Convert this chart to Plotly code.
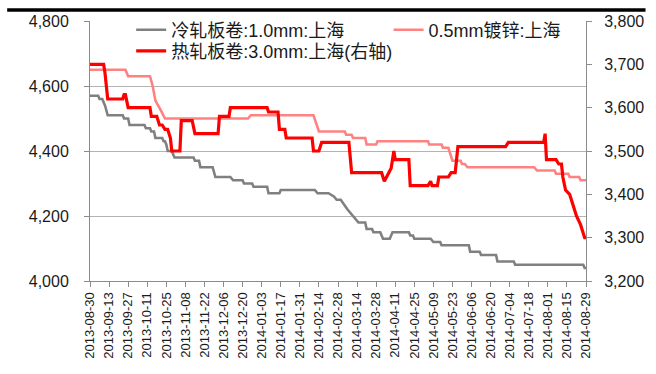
import plotly.graph_objects as go

# 冷轧板卷:1.0mm:上海 (left axis, 元/吨)
cold_dates = [
    "2013-08-30", "2013-09-05", "2013-09-06", "2013-09-08", "2013-09-10", "2013-09-11",
    "2013-09-12", "2013-09-23", "2013-09-24", "2013-09-27", "2013-09-28", "2013-10-09",
    "2013-10-10", "2013-10-13", "2013-10-14", "2013-10-16", "2013-10-17", "2013-10-22",
    "2013-10-23", "2013-10-24", "2013-10-25", "2013-10-26", "2013-10-29", "2013-10-31",
    "2013-11-14", "2013-11-15", "2013-11-18", "2013-11-19", "2013-11-28", "2013-11-30",
    "2013-12-11", "2013-12-13", "2013-12-20", "2013-12-21", "2013-12-27", "2013-12-28",
    "2014-01-07", "2014-01-08", "2014-01-16", "2014-01-17", "2014-02-11", "2014-02-13",
    "2014-02-21", "2014-02-25", "2014-02-27", "2014-03-02", "2014-03-05", "2014-03-07",
    "2014-03-11", "2014-03-15", "2014-03-20", "2014-03-21", "2014-03-25", "2014-03-26",
    "2014-03-31", "2014-04-02", "2014-04-07", "2014-04-09", "2014-04-21", "2014-04-22",
    "2014-04-24", "2014-04-25", "2014-05-07", "2014-05-09", "2014-05-14", "2014-05-15",
    "2014-06-04", "2014-06-05", "2014-06-12", "2014-06-13", "2014-06-24", "2014-06-25",
    "2014-07-07", "2014-07-08", "2014-08-27", "2014-08-28", "2014-08-29",
]
cold_values = [
    4570, 4570, 4560, 4560, 4540, 4520,
    4510, 4510, 4500, 4500, 4480, 4480,
    4470, 4470, 4460, 4460, 4440, 4440,
    4430, 4430, 4420, 4400, 4400, 4380,
    4380, 4370, 4370, 4350, 4350, 4320,
    4320, 4310, 4310, 4300, 4300, 4290,
    4290, 4270, 4270, 4280, 4280, 4270,
    4270, 4260, 4250, 4250, 4230, 4220,
    4200, 4180, 4180, 4160, 4160, 4150,
    4150, 4130, 4130, 4150, 4150, 4140,
    4140, 4130, 4130, 4120, 4120, 4110,
    4110, 4090, 4090, 4080, 4080, 4060,
    4060, 4050, 4050, 4040, 4040,
]

# 0.5mm镀锌:上海 (left axis)
galv_dates = [
    "2013-08-30", "2013-09-25", "2013-09-27", "2013-10-13", "2013-10-15", "2013-10-17",
    "2013-10-21", "2013-10-24", "2013-12-24", "2013-12-26", "2014-02-10", "2014-02-14",
    "2014-03-05", "2014-03-06", "2014-03-10", "2014-03-11", "2014-03-20", "2014-03-21",
    "2014-03-28", "2014-03-29", "2014-05-05", "2014-05-06", "2014-05-15", "2014-05-16",
    "2014-05-20", "2014-05-23", "2014-05-29", "2014-05-30", "2014-06-01", "2014-06-03",
    "2014-07-22", "2014-07-24", "2014-08-06", "2014-08-07", "2014-08-16", "2014-08-17",
    "2014-08-24", "2014-08-25", "2014-08-29",
]
galv_values = [
    4650, 4650, 4630, 4630, 4600, 4555,
    4525, 4500, 4500, 4510, 4510, 4460,
    4460, 4450, 4450, 4440, 4440, 4420,
    4420, 4430, 4430, 4420, 4420, 4410,
    4410, 4370, 4370, 4360, 4360, 4350,
    4350, 4340, 4340, 4330, 4330, 4320,
    4320, 4310, 4310,
]

# 热轧板卷:3.0mm:上海 (right axis)
hot_dates = [
    "2013-08-30", "2013-09-09", "2013-09-10", "2013-09-12", "2013-09-23", "2013-09-24",
    "2013-09-25", "2013-09-27", "2013-10-13", "2013-10-14", "2013-10-18", "2013-10-20",
    "2013-10-22", "2013-10-24", "2013-10-26", "2013-10-28", "2013-10-29", "2013-11-04",
    "2013-11-05", "2013-11-13", "2013-11-15", "2013-12-02", "2013-12-03", "2013-12-10",
    "2013-12-11", "2014-01-07", "2014-01-08", "2014-01-15", "2014-01-16", "2014-01-20",
    "2014-01-21", "2014-02-09", "2014-02-10", "2014-02-14", "2014-02-16", "2014-03-08",
    "2014-03-10", "2014-04-01", "2014-04-03", "2014-04-08", "2014-04-10", "2014-04-11",
    "2014-04-21", "2014-04-22", "2014-05-05", "2014-05-07", "2014-05-08", "2014-05-12",
    "2014-05-13", "2014-05-20", "2014-05-22", "2014-05-25", "2014-05-27", "2014-07-01",
    "2014-07-03", "2014-07-29", "2014-07-30", "2014-07-31", "2014-08-07", "2014-08-09",
    "2014-08-11", "2014-08-12", "2014-08-14", "2014-08-17", "2014-08-20", "2014-08-22",
    "2014-08-25", "2014-08-28", "2014-08-29",
]
hot_values = [
    3700, 3700, 3680, 3620, 3620, 3630,
    3630, 3600, 3600, 3580, 3580, 3560,
    3560, 3550, 3550, 3530, 3500, 3500,
    3570, 3570, 3540, 3540, 3580, 3580,
    3600, 3600, 3590, 3590, 3550, 3550,
    3530, 3530, 3500, 3500, 3520, 3520,
    3450, 3450, 3430, 3460, 3500, 3480,
    3480, 3420, 3420, 3430, 3420, 3420,
    3440, 3440, 3450, 3450, 3510, 3510,
    3520, 3520, 3540, 3480, 3480, 3470,
    3470, 3440, 3410, 3400, 3370, 3350,
    3330, 3300, 3300,
]

left_ticks = [4000, 4200, 4400, 4600, 4800]
right_ticks = [3200, 3300, 3400, 3500, 3600, 3700, 3800]

LATIN = "Liberation Sans, Arial, Noto Sans CJK SC, sans-serif"
AXIS_GREY = "#8c8c8c"
GRID_GREY = "#b4b4b4"

fig = go.Figure()
fig.add_trace(go.Scatter(
    x=cold_dates, y=cold_values, name="冷轧板卷:1.0mm:上海", mode="lines",
    line=dict(color="#808080", width=2.6), legend="legend",
))
fig.add_trace(go.Scatter(
    x=galv_dates, y=galv_values, name="0.5mm镀锌:上海", mode="lines",
    line=dict(color="#ff8282", width=2.6), legend="legend2",
))
fig.add_trace(go.Scatter(
    x=hot_dates, y=hot_values, name="热轧板卷:3.0mm:上海(右轴)", mode="lines",
    line=dict(color="#ff0000", width=3.2), yaxis="y2", legend="legend3",
))

legend_common = dict(
    orientation="v", xanchor="left", yanchor="middle", bgcolor="rgba(0,0,0,0)",
    borderwidth=0, font=dict(family=LATIN, size=18, color="#1a1a1a"),
)

fig.update_layout(
    width=656, height=374,
    margin=dict(l=90, r=57, t=15, b=93),
    paper_bgcolor="white", plot_bgcolor="white",
    font=dict(family=LATIN, color="#1a1a1a"),
    showlegend=True,
    legend=dict(x=0.083, y=0.965, **legend_common),
    legend2=dict(x=0.602, y=0.965, **legend_common),
    legend3=dict(x=0.083, y=0.884, **legend_common),
    xaxis=dict(
        type="date", range=["2013-08-30", "2014-08-29"],
        tick0="2013-08-30", dtick=14 * 86400000, tickformat="%Y-%m-%d",
        tickangle=-90, tickfont=dict(size=13, family=LATIN),
        showgrid=False, zeroline=False, showline=True, linecolor=AXIS_GREY, linewidth=1,
        ticks="outside", ticklen=5, tickcolor=AXIS_GREY,
    ),
    yaxis=dict(
        range=[4000, 4800], tickvals=left_ticks, tickformat=",",
        tickfont=dict(size=16, family=LATIN),
        showgrid=True, gridcolor=GRID_GREY, gridwidth=1, zeroline=False,
        showline=True, linecolor=AXIS_GREY, linewidth=1,
        ticks="outside", ticklen=5, tickcolor=AXIS_GREY, ticklabelstandoff=12,
    ),
    yaxis2=dict(
        range=[3200, 3800], tickvals=right_ticks, tickformat=",",
        overlaying="y", side="right", tickfont=dict(size=16, family=LATIN),
        showgrid=False, zeroline=False,
        showline=True, linecolor=AXIS_GREY, linewidth=1,
        ticks="outside", ticklen=5, tickcolor=AXIS_GREY, ticklabelstandoff=9,
    ),
    shapes=[
        # legend panel: blanks the top gridline behind the legend entries
        dict(type="rect", xref="paper", yref="paper", x0=0.013, x1=0.996,
             y0=0.965, y1=1.01, fillcolor="white", line=dict(width=0), layer="between"),
        # black rule across the top of the figure
        dict(type="line", xref="paper", yref="paper", x0=-0.167, x1=1.12,
             y0=1.042, y1=1.042, line=dict(color="black", width=3.5)),
    ],
)

fig.write_html("out.html")
